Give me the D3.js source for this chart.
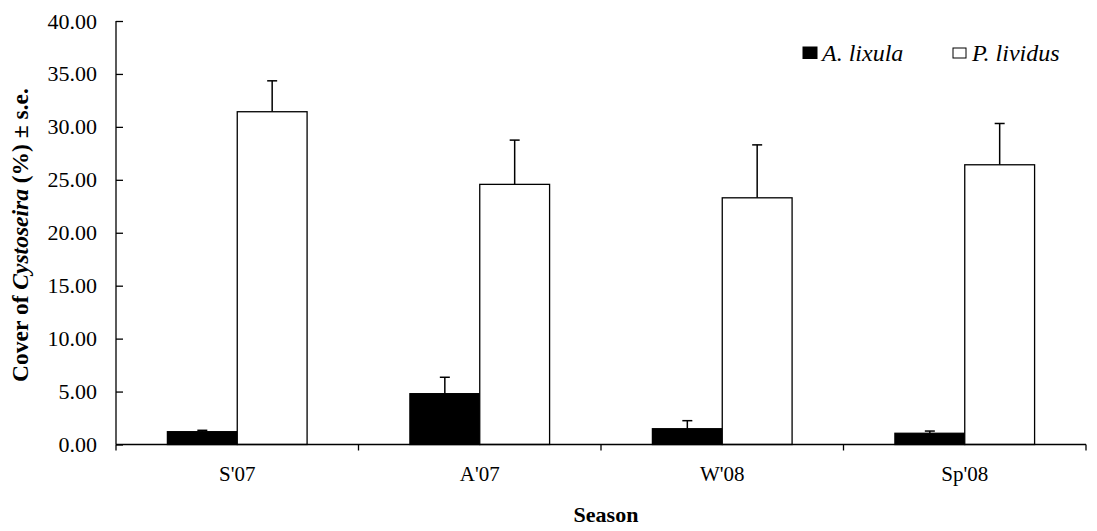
<!DOCTYPE html>
<html>
<head>
<meta charset="utf-8">
<script src="https://cdn.jsdelivr.net/npm/d3@7"></script>
<style>
  body { margin: 0; background: #fff; }
  text { font-family: "Liberation Serif", "Times New Roman", serif; fill: #000; }
</style>
</head>
<body>
<script>
// seasons and series
var seasons = ["S'07", "A'07", "W'08", "Sp'08"];
var seriesNames = ['A. lixula', 'P. lividus'];
var lixula = [1.21, 4.80, 1.49, 1.06];
var lixulaSE = [0.13, 1.55, 0.76, 0.21];
var lividus = [31.43, 24.57, 23.30, 26.42];
var lividusSE = [2.92, 4.18, 5.00, 3.90];
var yTicks = [0, 5, 10, 15, 20, 25, 30, 35, 40];

var W = 1097, H = 531;
var mLeft = 116, mRight = 1086, mTop = 21, mBottom = 444.5;

var svg = d3.select('body').append('svg')
  .attr('width', W)
  .attr('height', H);

var x = d3.scaleBand()
  .domain(seasons)
  .range([mLeft, mRight])
  .paddingInner(0.424)
  .paddingOuter(0.212);

var x1 = d3.scaleBand()
  .domain(seriesNames)
  .range([0, x.bandwidth()]);

var y = d3.scaleLinear()
  .domain([0, 40])
  .range([mBottom, mTop]);

var rows = seasons.map(function(s, i) {
  return [
    {season: s, key: seriesNames[0], v: lixula[i], se: lixulaSE[i], fill: '#000'},
    {season: s, key: seriesNames[1], v: lividus[i], se: lividusSE[i], fill: '#fff'}
  ];
});

// error bars (drawn first so bar outline covers the base)
var errs = svg.append('g');
rows.forEach(function(pair) {
  pair.forEach(function(d) {
    var cx = x(d.season) + x1(d.key) + x1.bandwidth() / 2;
    errs.append('line')
      .attr('x1', cx).attr('x2', cx)
      .attr('y1', y(d.v)).attr('y2', y(d.v + d.se))
      .attr('stroke', '#000').attr('stroke-width', 1.5);
    errs.append('line')
      .attr('x1', cx - 5).attr('x2', cx + 5)
      .attr('y1', y(d.v + d.se)).attr('y2', y(d.v + d.se))
      .attr('stroke', '#000').attr('stroke-width', 1.5);
  });
});

var bars = svg.append('g');
rows.forEach(function(pair) {
  bars.selectAll(null)
    .data(pair)
    .enter()
    .append('rect')
      .attr('x', function(d) { return x(d.season) + x1(d.key); })
      .attr('y', function(d) { return y(d.v); })
      .attr('width', x1.bandwidth())
      .attr('height', function(d) { return y(0) - y(d.v); })
      .attr('fill', function(d) { return d.fill; })
      .attr('stroke', '#000')
      .attr('stroke-width', 1.3);
});

// axes - y ticks point inwards
var yAxis = d3.axisLeft(y)
  .tickValues(yTicks)
  .tickSizeInner(-7)
  .tickSizeOuter(0)
  .tickPadding(19)
  .tickFormat(d3.format('.2f'));

var gy = svg.append('g')
  .attr('transform', 'translate(' + mLeft + ',0)')
  .call(yAxis);
gy.select('.domain').attr('d', 'M0,' + mTop + 'V' + mBottom);

var xAxis = d3.axisBottom(x)
  .tickSize(0)
  .tickPadding(22);

var gx = svg.append('g')
  .attr('transform', 'translate(0,' + mBottom + ')')
  .call(xAxis);
gx.select('.domain').attr('d', 'M' + mLeft + ',0H' + mRight);

// category boundary ticks
var bounds = seasons.map(function(s) { return x(s) - x.step() * x.paddingInner() / 2; });
bounds.push(mRight);
gx.selectAll('.bound')
  .data(bounds)
  .enter()
  .append('line')
    .attr('x1', function(d) { return d; })
    .attr('x2', function(d) { return d; })
    .attr('y1', 0).attr('y2', 6)
    .attr('stroke', '#000')
    .attr('stroke-width', 1.3);

svg.selectAll('.domain, .tick line').attr('stroke', '#000').attr('stroke-width', 1.3);
svg.selectAll('.tick text')
  .style('font-family', '"Liberation Serif", serif')
  .style('font-size', '22px')
  .attr('fill', '#000');
gx.selectAll('.tick text').attr('dy', '0.71em').style('font-size', '21px');

// axis titles
var yt = svg.append('text')
  .attr('transform', 'translate(28,235) rotate(-90)')
  .attr('text-anchor', 'middle')
  .style('font-size', '23.5px')
  .style('font-weight', 'bold');
yt.append('tspan').text('Cover of ');
yt.append('tspan').style('font-style', 'italic').text('Cystoseira');
yt.append('tspan').text(' (%) \u00b1 s.e.');

svg.append('text')
  .attr('x', 606)
  .attr('y', 522)
  .attr('text-anchor', 'middle')
  .style('font-size', '22px')
  .style('font-weight', 'bold')
  .text('Season');

// legend
var legendX = [803, 953];
var lg = svg.append('g');
seriesNames.forEach(function(name, i) {
  lg.append('rect')
    .attr('x', legendX[i]).attr('y', i === 0 ? 47 : 48)
    .attr('width', i === 0 ? 14 : 13).attr('height', i === 0 ? 11.5 : 10)
    .attr('fill', i === 0 ? '#000' : '#fff')
    .attr('stroke', '#000').attr('stroke-width', 1);
  lg.append('text')
    .attr('x', legendX[i] + 19).attr('y', 61)
    .style('font-size', '24px')
    .style('font-style', 'italic')
    .text(name);
});
</script>
</body>
</html>
